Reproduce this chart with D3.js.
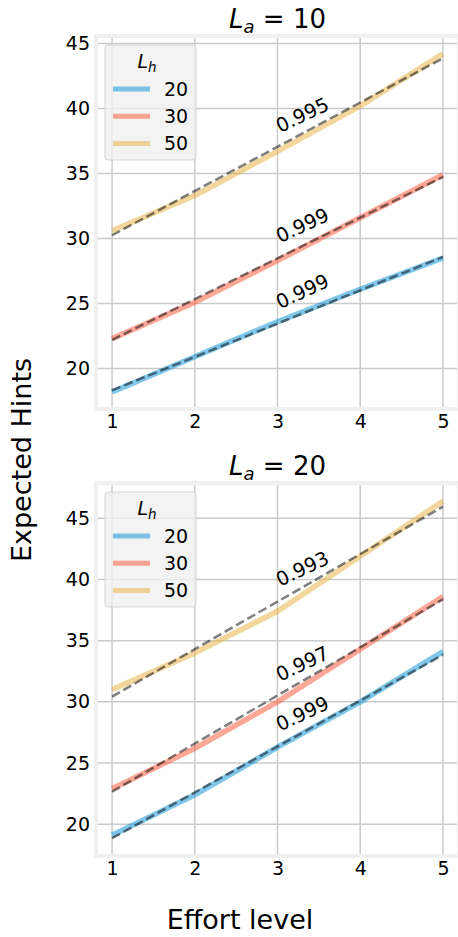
<!DOCTYPE html>
<html>
<head>
<meta charset="utf-8">
<script src="https://cdn.jsdelivr.net/npm/d3@7"></script>
<style>
  body { margin: 0; background: #fff; }
  svg { display: block; font-family: "DejaVu Sans", sans-serif; }
</style>
</head>
<body>
<div id="chart"></div>
<script>
// effort levels on the x axis
const efforts = [1, 2, 3, 4, 5];
const xTicks = [1, 2, 3, 4, 5];
const yTicks = [20, 25, 30, 35, 40, 45];

const lhLevels = ["20", "30", "50"];
const lhColors = ["#008fd5", "#fc4f30", "#e5ae38"];

// L_a = 10 : expected hints per effort level
const la10Lh20 = [18.2, 20.9, 23.6, 26.1, 28.5];
const la10Lh30 = [22.3, 25.1, 28.3, 31.6, 34.9];
const la10Lh50 = [30.6, 33.3, 36.7, 40.2, 44.2];

// L_a = 20
const la20Lh20 = [19.1, 22.4, 26.3, 30.0, 34.1];
const la20Lh30 = [22.9, 26.2, 30.0, 34.3, 38.6];
const la20Lh50 = [31.0, 34.0, 37.4, 41.9, 46.4];

// linear fits (value at effort 1 and effort 5)
const fitX = [1, 5];
const la10Fit20 = [18.33, 28.58];
const la10Fit30 = [22.2, 34.74];
const la10Fit50 = [30.25, 43.86];
const la20Fit20 = [18.86, 33.84];
const la20Fit30 = [22.66, 38.38];
const la20Fit50 = [30.43, 45.95];

// r^2 labels and where they sit (data units)
const la10R2 = ["0.999", "0.999", "0.995"];
const la10R2Y = [24.55, 29.63, 38.12];
const la20R2 = ["0.999", "0.997", "0.993"];
const la20R2Y = [27.57, 31.65, 39.41];

const W = 458, H = 937;

const panels = [
  { la: "10", series: [la10Lh20, la10Lh30, la10Lh50], fits: [la10Fit20, la10Fit30, la10Fit50],
    r2: la10R2, r2Y: la10R2Y, top: 38, bottom: 407, yDomain: [17.04, 45.42] },
  { la: "20", series: [la20Lh20, la20Lh30, la20Lh50], fits: [la20Fit20, la20Fit30, la20Fit50],
    r2: la20R2, r2Y: la20R2Y, top: 485, bottom: 854, yDomain: [17.57, 47.72] }
];

const left = 98, right = 457;

const svg = d3.select("#chart").append("svg")
  .attr("width", W)
  .attr("height", H);

const x = d3.scaleLinear().domain([0.83, 5.17]).range([left, right]);

panels.forEach((p, pi) => {
  const y = d3.scaleLinear().domain(p.yDomain).range([p.bottom, p.top]);
  const g = svg.append("g");

  // frame
  g.append("rect")
    .attr("x", left - 2).attr("y", p.top - 2)
    .attr("width", right - left + 4).attr("height", p.bottom - p.top + 4)
    .attr("fill", "#fff")
    .attr("stroke", "#f0f0f0")
    .attr("stroke-width", 4);

  const clipId = "clip" + pi;
  g.append("clipPath").attr("id", clipId)
    .append("rect")
    .attr("x", left).attr("y", p.top)
    .attr("width", right - left).attr("height", p.bottom - p.top);

  // grid
  g.append("g").selectAll("line.v").data(xTicks).enter().append("line")
    .attr("x1", d => x(d)).attr("x2", d => x(d))
    .attr("y1", p.top).attr("y2", p.bottom)
    .attr("stroke", "#cbcbcb").attr("stroke-width", 1.5);
  g.append("g").selectAll("line.h").data(yTicks).enter().append("line")
    .attr("x1", left).attr("x2", right)
    .attr("y1", d => y(d)).attr("y2", d => y(d))
    .attr("stroke", "#cbcbcb").attr("stroke-width", 1.5);

  // axes (tick labels only)
  const xAxis = g.append("g")
    .attr("transform", "translate(0," + p.bottom + ")")
    .call(d3.axisBottom(x).tickValues(xTicks).tickSize(0).tickPadding(8).tickFormat(d3.format("d")));
  const yAxis = g.append("g")
    .attr("transform", "translate(" + left + ",0)")
    .call(d3.axisLeft(y).tickValues(yTicks).tickSize(0).tickPadding(8).tickFormat(d3.format("d")));
  [xAxis, yAxis].forEach(a => {
    a.select(".domain").remove();
    a.attr("font-size", 19).attr("font-family", "DejaVu Sans");
    a.selectAll("text").attr("fill", "#000");
  });
  xAxis.selectAll("text").attr("dy", null).attr("y", 21);
  yAxis.selectAll("text").attr("x", -8);

  const plot = g.append("g").attr("clip-path", "url(#" + clipId + ")");

  const line = d3.line().x(d => x(d[0])).y(d => y(d[1]));

  p.series.forEach((s, i) => {
    plot.append("path")
      .datum(efforts.map((e, k) => [e, s[k]]))
      .attr("d", line)
      .attr("fill", "none")
      .attr("stroke", lhColors[i])
      .attr("stroke-opacity", 0.5)
      .attr("stroke-width", 5.5)
      .attr("stroke-linejoin", "round");
  });

  p.fits.forEach(f => {
    plot.append("path")
      .datum(fitX.map((e, k) => [e, f[k]]))
      .attr("d", line)
      .attr("fill", "none")
      .attr("stroke", "#000")
      .attr("stroke-opacity", 0.5)
      .attr("stroke-width", 2.5)
      .attr("stroke-dasharray", "9,4");
  });

  // r^2 annotations
  p.r2.forEach((t, i) => {
    const tx = x(3.03), ty = y(p.r2Y[i]);
    g.append("text")
      .attr("transform", "translate(" + tx + "," + ty + ") rotate(-25)")
      .attr("font-size", 19.5)
      .attr("fill", "#000")
      .text(t);
  });

  // title  L_a = value
  const title = g.append("text")
    .attr("x", (left + right) / 2)
    .attr("y", p.top - 10)
    .attr("text-anchor", "middle")
    .attr("font-size", 26)
    .attr("fill", "#000");
  title.append("tspan").attr("font-style", "italic").text("L");
  title.append("tspan").attr("font-style", "italic").attr("font-size", 18).attr("dy", 5).text("a");
  title.append("tspan").attr("dy", -5).text(" = " + p.la);

  // legend
  const lg = g.append("g").attr("transform", "translate(105," + (p.top + 7) + ")");
  lg.append("rect")
    .attr("width", 91).attr("height", 115)
    .attr("rx", 3)
    .attr("fill", "#f0f0f0").attr("fill-opacity", 0.8)
    .attr("stroke", "#cccccc").attr("stroke-opacity", 0.8).attr("stroke-width", 1);
  const lt = lg.append("text")
    .attr("x", 42).attr("y", 23)
    .attr("text-anchor", "middle")
    .attr("font-size", 19).attr("fill", "#000");
  lt.append("tspan").attr("font-style", "italic").text("L");
  lt.append("tspan").attr("font-style", "italic").attr("font-size", 13.5).attr("dy", 4).text("h");

  lhLevels.forEach((lab, i) => {
    const ry = 44 + i * 27.2;
    lg.append("line")
      .attr("x1", 8).attr("x2", 45)
      .attr("y1", ry).attr("y2", ry)
      .attr("stroke", lhColors[i]).attr("stroke-opacity", 0.5)
      .attr("stroke-width", 5);
    lg.append("text")
      .attr("x", 59).attr("y", ry + 7)
      .attr("font-size", 19).attr("fill", "#000")
      .text(lab);
  });
});

// shared axis labels
svg.append("text")
  .attr("transform", "translate(31,460) rotate(-90)")
  .attr("text-anchor", "middle")
  .attr("font-size", 27)
  .attr("fill", "#000")
  .text("Expected Hints");

svg.append("text")
  .attr("x", 240).attr("y", 929)
  .attr("text-anchor", "middle")
  .attr("font-size", 27)
  .attr("fill", "#000")
  .text("Effort level");
</script>
</body>
</html>
